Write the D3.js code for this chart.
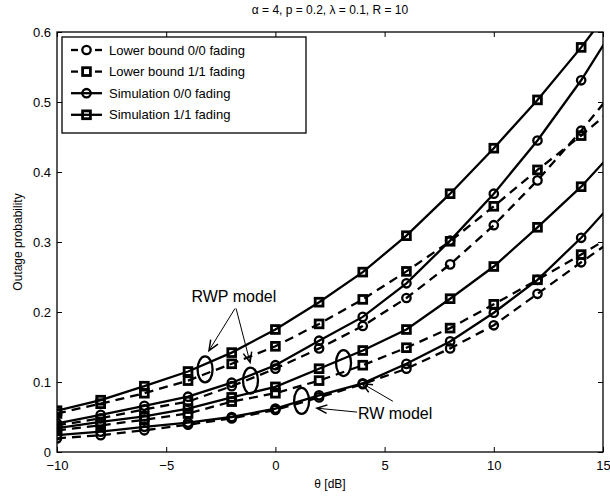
<!DOCTYPE html>
<html>
<head>
<meta charset="utf-8">
<script src="https://cdn.jsdelivr.net/npm/d3@7"></script>
<style>
  body { margin: 0; background: #fff; }
  svg text { font-family: "Liberation Sans", Arial, sans-serif; fill: #000; }
</style>
</head>
<body>
<svg id="chart" width="610" height="497"></svg>
<script>
// theta in dB (last point lies past the axis and is clipped)
const theta = [-10, -8, -6, -4, -2, 0, 2, 4, 6, 8, 10, 12, 14, 16];

// RWP model
const rwpSim11 = [0.059, 0.074, 0.094, 0.115, 0.142, 0.175, 0.214, 0.257, 0.309, 0.369, 0.434, 0.503, 0.578, 0.66];
const rwpLow11 = [0.055, 0.069, 0.084, 0.102, 0.126, 0.151, 0.183, 0.218, 0.258, 0.301, 0.351, 0.403, 0.452, 0.505];
const rwpSim00 = [0.041, 0.053, 0.066, 0.079, 0.099, 0.124, 0.159, 0.193, 0.241, 0.302, 0.369, 0.445, 0.531, 0.63];
const rwpLow00 = [0.038, 0.048, 0.061, 0.072, 0.094, 0.119, 0.148, 0.180, 0.220, 0.268, 0.324, 0.388, 0.459, 0.535];
// RW model
const rwSim11 = [0.034, 0.043, 0.051, 0.062, 0.078, 0.093, 0.119, 0.145, 0.175, 0.219, 0.265, 0.321, 0.379, 0.447];
const rwLow11 = [0.031, 0.038, 0.046, 0.055, 0.072, 0.084, 0.102, 0.124, 0.149, 0.177, 0.211, 0.246, 0.282, 0.32];
const rwSim00 = [0.024, 0.029, 0.036, 0.042, 0.050, 0.062, 0.081, 0.098, 0.126, 0.158, 0.199, 0.246, 0.306, 0.375];
const rwLow00 = [0.0195, 0.024, 0.031, 0.039, 0.048, 0.060, 0.078, 0.097, 0.119, 0.148, 0.181, 0.226, 0.271, 0.315];

const xTicks = [-10, -5, 0, 5, 10, 15];
const yTicks = [0, 0.1, 0.2, 0.3, 0.4, 0.5, 0.6];

const legendLabels = ['Lower bound 0/0 fading', 'Lower bound 1/1 fading', 'Simulation 0/0 fading', 'Simulation 1/1 fading'];

const series = [
  {values: rwpSim11, dashed: false, marker: 'square'},
  {values: rwpLow11, dashed: true, marker: 'square'},
  {values: rwpSim00, dashed: false, marker: 'circle'},
  {values: rwpLow00, dashed: true, marker: 'circle'},
  {values: rwSim11, dashed: false, marker: 'square'},
  {values: rwLow11, dashed: true, marker: 'square'},
  {values: rwSim00, dashed: false, marker: 'circle'},
  {values: rwLow00, dashed: true, marker: 'circle'}
];
const legendStyles = [
  {dashed: true, marker: 'circle'},
  {dashed: true, marker: 'square'},
  {dashed: false, marker: 'circle'},
  {dashed: false, marker: 'square'}
];

const margin = {top: 32, right: 7, bottom: 45, left: 57};
const W = 610, H = 497;
const width = W - margin.left - margin.right;
const height = H - margin.top - margin.bottom;

const svg = d3.select('#chart');
const g = svg.append('g').attr('transform', `translate(${margin.left},${margin.top})`);

const x = d3.scaleLinear().domain([-10, 15]).range([0, width]);
const y = d3.scaleLinear().domain([0, 0.6]).range([height, 0]);

svg.append('defs').append('clipPath').attr('id', 'plotclip')
  .append('rect').attr('x', 0).attr('y', 0).attr('width', width).attr('height', height);

const fmtX = d => d < 0 ? '\u2212' + Math.abs(d) : String(d);
const fmtY = d => d === 0 ? '0' : d3.format('.1f')(d);

// axes (box with inward ticks)
function styleAxis(sel) {
  sel.select('.domain').remove();
  sel.selectAll('line').attr('stroke', '#000').attr('stroke-width', 1);
  sel.selectAll('text').style('font-size', '13px').attr('fill', '#000');
}
g.append('g').attr('transform', `translate(0,${height})`)
  .call(d3.axisBottom(x).tickValues(xTicks).tickFormat(fmtX).tickSizeInner(-5).tickSizeOuter(0).tickPadding(9))
  .call(styleAxis);
g.append('g')
  .call(d3.axisTop(x).tickValues(xTicks).tickFormat('').tickSizeInner(-5).tickSizeOuter(0))
  .call(styleAxis);
g.append('g')
  .call(d3.axisLeft(y).tickValues(yTicks).tickFormat(fmtY).tickSizeInner(-5).tickSizeOuter(0).tickPadding(6))
  .call(styleAxis);
g.append('g').attr('transform', `translate(${width},0)`)
  .call(d3.axisRight(y).tickValues(yTicks).tickFormat('').tickSizeInner(-5).tickSizeOuter(0))
  .call(styleAxis);
g.append('rect').attr('width', width).attr('height', height)
  .attr('fill', 'none').attr('stroke', '#000').attr('stroke-width', 1.3);

// curves
const plot = g.append('g').attr('clip-path', 'url(#plotclip)');
const line = d3.line().x((d, i) => x(theta[i])).y(d => y(d));

function drawMarker(sel, type, cx, cy) {
  if (type === 'circle') {
    sel.append('circle').attr('cx', cx).attr('cy', cy).attr('r', 4.2)
      .attr('fill', 'none').attr('stroke', '#000').attr('stroke-width', 2.3);
  } else {
    sel.append('rect').attr('x', cx - 3.9).attr('y', cy - 3.9).attr('width', 7.8).attr('height', 7.8)
      .attr('fill', 'none').attr('stroke', '#000').attr('stroke-width', 2.8);
  }
}

series.forEach(s => {
  plot.append('path').datum(s.values).attr('d', line)
    .attr('fill', 'none').attr('stroke', '#000').attr('stroke-width', 2.3)
    .attr('stroke-dasharray', s.dashed ? '9,6' : null);
  s.values.forEach((v, i) => {
    if (theta[i] <= 15) drawMarker(plot, s.marker, x(theta[i]), y(v));
  });
});

// annotations
const ellipses = [[-3.22, 0.118], [-1.14, 0.102], [1.2, 0.073], [3.12, 0.127]];
ellipses.forEach(([t, v]) => {
  g.append('ellipse').attr('cx', x(t)).attr('cy', y(v)).attr('rx', 7.5).attr('ry', 13)
    .attr('fill', 'none').attr('stroke', '#000').attr('stroke-width', 2.3);
});

function arrow(x1, y1, x2, y2) {
  const a = Math.atan2(y2 - y1, x2 - x1);
  const L = 11, spread = 0.4;
  g.append('line').attr('x1', x1).attr('y1', y1).attr('x2', x2).attr('y2', y2)
    .attr('stroke', '#000').attr('stroke-width', 1);
  const p1 = [x2 - L * Math.cos(a - spread), y2 - L * Math.sin(a - spread)];
  const p2 = [x2 - L * Math.cos(a + spread), y2 - L * Math.sin(a + spread)];
  g.append('path').attr('d', `M${p1}L${x2},${y2}L${p2}`)
    .attr('fill', 'none').attr('stroke', '#000').attr('stroke-width', 1.5);
}

const annotations = [
  {text: 'RWP model', at: [-1.9, 0.222], arrows: [[[-1.85, 0.205], [-3.04, 0.145]], [[-1.8, 0.205], [-1.16, 0.128]]]},
  {text: 'RW model', at: [5.48, 0.0555], arrows: [[[3.74, 0.057], [1.9, 0.0626]], [[5.38, 0.0725], [3.97, 0.098]]]}
];
annotations.forEach(a => {
  g.append('text').attr('x', x(a.at[0])).attr('y', y(a.at[1])).attr('text-anchor', 'middle')
    .attr('dominant-baseline', 'central').style('font-size', '16px').text(a.text);
  a.arrows.forEach(([p, q]) => arrow(x(p[0]), y(p[1]), x(q[0]), y(q[1])));
});

// legend
const leg = g.append('g').attr('transform', 'translate(5,5)');
leg.append('rect').attr('width', 244).attr('height', 96)
  .attr('fill', '#fff').attr('stroke', '#000').attr('stroke-width', 1.3);
legendStyles.forEach((s, i) => {
  const ly = 13 + i * 21.6;
  const row = leg.append('g');
  if (s.dashed) {
    row.append('line').attr('x1', 9).attr('x2', 16).attr('y1', ly).attr('y2', ly)
      .attr('stroke', '#000').attr('stroke-width', 2.3);
    row.append('line').attr('x1', 33).attr('x2', 40).attr('y1', ly).attr('y2', ly)
      .attr('stroke', '#000').attr('stroke-width', 2.3);
  } else {
    row.append('line').attr('x1', 9).attr('x2', 40).attr('y1', ly).attr('y2', ly)
      .attr('stroke', '#000').attr('stroke-width', 2.3);
  }
  drawMarker(row, s.marker, 24.5, ly);
  row.append('text').attr('x', 47).attr('y', ly).attr('dominant-baseline', 'central')
    .style('font-size', '13px').text(legendLabels[i]);
});

// labels
svg.append('text').attr('x', margin.left + width / 2).attr('y', 14).attr('text-anchor', 'middle')
  .style('font-size', '12px').text('\u03b1 = 4, p = 0.2, \u03bb = 0.1, R = 10');
svg.append('text').attr('x', margin.left + width / 2).attr('y', 488).attr('text-anchor', 'middle')
  .style('font-size', '12px').text('\u03b8 [dB]');
svg.append('text').attr('transform', `translate(22,${margin.top + height / 2}) rotate(-90)`)
  .attr('text-anchor', 'middle').style('font-size', '12px').text('Outage probability');
</script>
</body>
</html>
